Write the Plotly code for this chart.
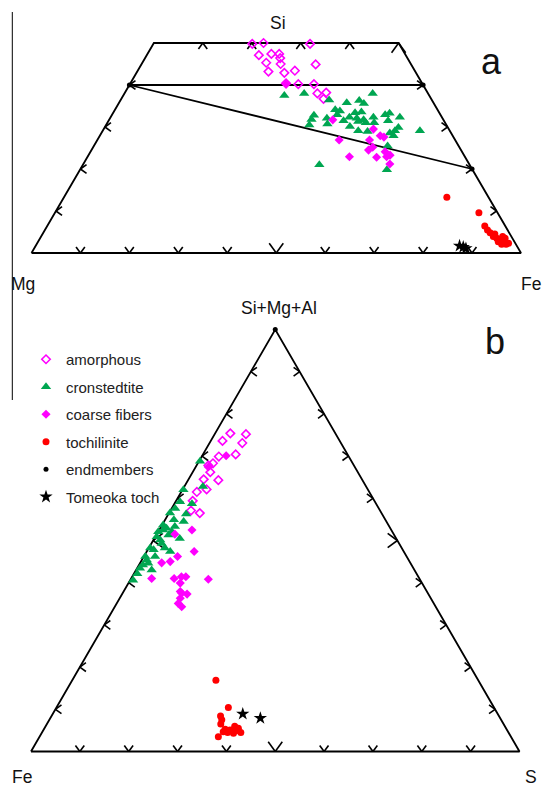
import math
import plotly.graph_objects as go

FIG_W, FIG_H = 543, 788
R3 = math.sqrt(3) / 2

# ---------------- Panel a : Si - Mg - Fe (fractions, Mg = 1 - Si - Fe) ----------------
a_amorphous_si = [0.498, 0.500, 0.498, 0.471, 0.474, 0.474, 0.464, 0.453, 0.450, 0.432,
                  0.429, 0.434, 0.449, 0.404, 0.402, 0.402, 0.380, 0.382, 0.367]
a_amorphous_fe = [0.202, 0.224, 0.320, 0.229, 0.253, 0.269, 0.276, 0.253, 0.284, 0.268,
                  0.302, 0.321, 0.356, 0.318, 0.344, 0.376, 0.394, 0.411, 0.413]

a_cronst_si = [0.375, 0.380, 0.380, 0.364, 0.358, 0.363, 0.356, 0.341, 0.338, 0.334,
               0.336, 0.328, 0.321, 0.318, 0.315, 0.323, 0.321, 0.317, 0.323, 0.329,
               0.333, 0.323, 0.310, 0.310, 0.315, 0.305, 0.307, 0.301, 0.291, 0.289,
               0.299, 0.291, 0.286, 0.291, 0.279, 0.255, 0.210, 0.198, 0.329, 0.313]
a_cronst_fe = [0.329, 0.367, 0.507, 0.426, 0.465, 0.488, 0.501, 0.450, 0.461, 0.494,
               0.506, 0.413, 0.443, 0.413, 0.480, 0.488, 0.504, 0.520, 0.537, 0.558,
               0.565, 0.591, 0.528, 0.545, 0.571, 0.415, 0.451, 0.500, 0.522, 0.542,
               0.600, 0.648, 0.589, 0.597, 0.600, 0.600, 0.483, 0.627, 0.460, 0.511]

a_coarse_si = [0.317, 0.295, 0.269, 0.279, 0.276, 0.269, 0.245, 0.252, 0.241, 0.233,
               0.229, 0.228, 0.229, 0.212, 0.402]
a_coarse_fe = [0.457, 0.551, 0.494, 0.573, 0.582, 0.556, 0.566, 0.571, 0.602, 0.616,
               0.535, 0.591, 0.611, 0.626, 0.319]

a_toch_si = [0.133, 0.096, 0.064, 0.055, 0.048, 0.045, 0.035, 0.031, 0.039, 0.027,
             0.021, 0.021, 0.023, 0.027, 0.039, 0.035]
a_toch_fe = [0.782, 0.866, 0.894, 0.904, 0.913, 0.924, 0.933, 0.942, 0.943, 0.952,
             0.959, 0.950, 0.963, 0.940, 0.924, 0.950]

a_tomeoka_si = [0.017, 0.014, 0.011]
a_tomeoka_fe = [0.866, 0.875, 0.882]

# endmembers: Mg-serpentine, greenalite, cronstedtite
a_end_si = [0.4, 0.4, 0.2]
a_end_fe = [0.0, 0.6, 0.8]

# ---------------- Panel b : (Si+Mg+Al) - Fe - S (fractions, Fe = 1 - T - S) ----------------
b_amorphous_t = [0.754, 0.752, 0.736, 0.731, 0.699, 0.704, 0.683, 0.678, 0.662, 0.645,
                 0.643, 0.621, 0.615, 0.594, 0.565, 0.571]
b_amorphous_s = [0.031, 0.064, 0.024, 0.067, 0.035, 0.067, 0.031, 0.024, 0.036, 0.031,
                 0.062, 0.049, 0.032, 0.034, 0.063, 0.042]

b_cronst_t = [0.688, 0.620, 0.628, 0.587, 0.576, 0.592, 0.565, 0.545, 0.533, 0.525,
              0.513, 0.505, 0.509, 0.493, 0.482, 0.474, 0.462, 0.462, 0.446, 0.442,
              0.430, 0.406, 0.529, 0.521, 0.501, 0.478, 0.454, 0.434, 0.537, 0.521,
              0.482, 0.549, 0.563, 0.421]
b_cronst_s = [0.002, 0.002, 0.038, 0.036, 0.007, 0.009, 0.002, 0.040, 0.028, 0.008,
              0.025, 0.052, 0.003, 0.021, 0.003, 0.048, 0.023, 0.003, 0.017, 0.008,
              0.032, 0.006, 0.013, 0.028, 0.014, 0.012, 0.010, 0.006, 0.002, 0.000,
              0.033, 0.018, 0.036, 0.007]

b_coarse_t = [0.701, 0.674, 0.515, 0.525, 0.474, 0.462, 0.450, 0.447, 0.410, 0.410,
              0.414, 0.414, 0.408, 0.399, 0.375, 0.373, 0.363, 0.351, 0.343, 0.379]
b_coarse_s = [0.049, 0.026, 0.037, 0.067, 0.097, 0.069, 0.060, 0.044, 0.042, 0.088,
              0.101, 0.110, 0.159, 0.106, 0.121, 0.133, 0.124, 0.126, 0.137, 0.116]

b_toch_t = [0.169, 0.104, 0.084, 0.075, 0.065, 0.053, 0.051, 0.060, 0.049, 0.045,
            0.043, 0.045, 0.047, 0.035, 0.055]
b_toch_s = [0.294, 0.352, 0.346, 0.353, 0.356, 0.371, 0.382, 0.387, 0.395, 0.407,
            0.393, 0.380, 0.370, 0.366, 0.397]

b_tomeoka_t = [0.089, 0.079]
b_tomeoka_s = [0.389, 0.430]

b_end_t = [1.0]
b_end_s = [0.0]

# tick values along each edge
a_bottom_ticks = [0.1, 0.2, 0.3, 0.4, 0.5, 0.6, 0.7, 0.8, 0.9]
a_side_ticks = [0.1, 0.2, 0.3, 0.4]
a_top_ticks = [0.1, 0.2, 0.3, 0.4, 0.5]
b_ticks = [0.1, 0.2, 0.3, 0.4, 0.5, 0.6, 0.7, 0.8, 0.9]
SI_CUT = 0.5  # upper limit of Si shown in panel a

MAGENTA = "#FF00FF"
GREEN = "#00A651"
RED = "#FF0000"
FONT = "Liberation Sans, Arial, sans-serif"

# pixel scale of each panel (px per cartesian unit)
A_SX, A_SY = 489.5, 420 / R3
B_SX, B_SY = 488.5, 422 / R3


def to_xy(top, right):
    """Ternary (top, right) fractions -> cartesian coordinates."""
    xs = [r + t / 2 for t, r in zip(top, right)]
    ys = [t * R3 for t in top]
    return xs, ys


def arrow_ticks(xs, ys, direction, sx, sy, lengths, half=36):
    """Chevron tick marks whose tip sits on the edge and points outward."""
    dx, dy = direction
    px, py = [], []
    for x, y, L in zip(xs, ys, lengths):
        for sgn in (1, -1):
            a = math.radians(sgn * half)
            bx, by = -dx, -dy
            rx = bx * math.cos(a) - by * math.sin(a)
            ry = bx * math.sin(a) + by * math.cos(a)
            px += [x + L * rx / sx, x, None]
            py += [y + L * ry / sy, y, None]
    return px, py


def tick_len(vals):
    return [12 if abs(v - 0.5) < 1e-9 else 7.5 for v in vals]


fig = go.Figure()

# ---------- panel a frame (trapezoid) ----------
fx, fy = to_xy([0, 0, SI_CUT, SI_CUT, 0], [0, 1, 1 - SI_CUT, 0, 0])
fig.add_trace(go.Scatter(x=fx, y=fy, mode="lines", line=dict(color="black", width=1.8),
                         hoverinfo="skip", showlegend=False, xaxis="x", yaxis="y"))

tick_x, tick_y = [], []
# bottom edge: Fe
bx, by = to_xy([0] * len(a_bottom_ticks), a_bottom_ticks)
p = arrow_ticks(bx, by, (0, -1), A_SX, A_SY, tick_len(a_bottom_ticks))
tick_x += p[0]; tick_y += p[1]
# left edge: Si
lx, ly = to_xy(a_side_ticks, [0] * len(a_side_ticks))
p = arrow_ticks(lx, ly, (-1, 0), A_SX, A_SY, tick_len(a_side_ticks))
tick_x += p[0]; tick_y += p[1]
# right edge: Si
rx, ry = to_xy(a_side_ticks, [1 - v for v in a_side_ticks])
p = arrow_ticks(rx, ry, (1, 0), A_SX, A_SY, tick_len(a_side_ticks))
tick_x += p[0]; tick_y += p[1]
# top edge (Si = 0.5): Fe
tx, ty = to_xy([SI_CUT] * len(a_top_ticks), a_top_ticks)
p = arrow_ticks(tx, ty, (0, 1), A_SX, A_SY, tick_len(a_top_ticks))
tick_x += p[0]; tick_y += p[1]
fig.add_trace(go.Scatter(x=tick_x, y=tick_y, mode="lines", line=dict(color="black", width=1.6),
                         hoverinfo="skip", showlegend=False, xaxis="x", yaxis="y"))

# serpentine join lines: Mg-serpentine -> greenalite, Mg-serpentine -> cronstedtite
ex, ey = to_xy(a_end_si, a_end_fe)
fig.add_trace(go.Scatter(x=[ex[0], ex[1], None, ex[0], ex[2]], y=[ey[0], ey[1], None, ey[0], ey[2]],
                         mode="lines", line=dict(color="black", width=1.8),
                         hoverinfo="skip", showlegend=False, xaxis="x", yaxis="y"))

# ---------- panel b frame (triangle) ----------
gx, gy = to_xy([0, 0, 1, 0], [0, 1, 0, 0])
fig.add_trace(go.Scatter(x=gx, y=gy, mode="lines", line=dict(color="black", width=1.8),
                         hoverinfo="skip", showlegend=False, xaxis="x2", yaxis="y2"))
tick_x, tick_y = [], []
bx, by = to_xy([0] * len(b_ticks), b_ticks)
p = arrow_ticks(bx, by, (0, -1), B_SX, B_SY, tick_len(b_ticks))
tick_x += p[0]; tick_y += p[1]
lx, ly = to_xy(b_ticks, [0] * len(b_ticks))
p = arrow_ticks(lx, ly, (-1, 0), B_SX, B_SY, tick_len(b_ticks))
tick_x += p[0]; tick_y += p[1]
rx, ry = to_xy(b_ticks, [1 - v for v in b_ticks])
p = arrow_ticks(rx, ry, (1, 0), B_SX, B_SY, tick_len(b_ticks))
tick_x += p[0]; tick_y += p[1]
fig.add_trace(go.Scatter(x=tick_x, y=tick_y, mode="lines", line=dict(color="black", width=1.6),
                         hoverinfo="skip", showlegend=False, xaxis="x2", yaxis="y2"))

# ---------- data series ----------
series = [
    ("amorphous", dict(symbol="diamond-open", size=6.5, color=MAGENTA, line=dict(width=1.6, color=MAGENTA)),
     (a_amorphous_si, a_amorphous_fe), (b_amorphous_t, b_amorphous_s)),
    ("cronstedtite", dict(symbol="triangle-up", size=9, color=GREEN, line=dict(width=0)),
     (a_cronst_si, a_cronst_fe), (b_cronst_t, b_cronst_s)),
    ("coarse fibers", dict(symbol="diamond", size=7, color=MAGENTA, line=dict(width=0)),
     (a_coarse_si, a_coarse_fe), (b_coarse_t, b_coarse_s)),
    ("tochilinite", dict(symbol="circle", size=7, color=RED, line=dict(width=0)),
     (a_toch_si, a_toch_fe), (b_toch_t, b_toch_s)),
    ("endmembers", dict(symbol="circle", size=5, color="black", line=dict(width=0)),
     (a_end_si, a_end_fe), (b_end_t, b_end_s)),
    ("Tomeoka toch", dict(symbol="star", size=10, color="black", line=dict(width=0)),
     (a_tomeoka_si, a_tomeoka_fe), (b_tomeoka_t, b_tomeoka_s)),
]

for name, marker, (a_top, a_right), (b_top, b_right) in series:
    x, y = to_xy(a_top, a_right)
    fig.add_trace(go.Scatter(x=x, y=y, mode="markers", marker=marker, name=name,
                             legendgroup=name, showlegend=False, xaxis="x", yaxis="y"))
    x, y = to_xy(b_top, b_right)
    fig.add_trace(go.Scatter(x=x, y=y, mode="markers", marker=marker, name=name,
                             legendgroup=name, showlegend=True, xaxis="x2", yaxis="y2"))


def paper(xp, yp):
    return xp / FIG_W, 1 - yp / FIG_H


# (text, x px, y px, font size, vertical anchor)
labels = [
    ("Si", 278, 23, 17.5, "middle"), ("a", 491, 62, 36, "middle"),
    ("Mg", 23, 284, 17.5, "middle"), ("Fe", 531, 284, 17.5, "middle"),
    ("Si+Mg+Al", 279, 308, 17.5, "middle"), ("b", 495, 341, 36, "middle"),
    ("Fe", 22, 788, 17.5, "bottom"), ("S", 531, 788, 17.5, "bottom"),
]
annotations = []
for text, xp, yp, size, anchor in labels:
    x, y = paper(xp, yp)
    annotations.append(dict(text=text, x=x, y=y, xref="paper", yref="paper", showarrow=False,
                            xanchor="center", yanchor=anchor, borderpad=0,
                            font=dict(family=FONT, size=size, color="#111111")))

v0, v1 = paper(12.3, 12)[1], paper(12.3, 400)[1]
shapes = [dict(type="line", xref="paper", yref="paper", x0=12.3 / FIG_W, x1=12.3 / FIG_W,
               y0=v1, y1=v0, line=dict(color="black", width=1))]

split = 1 - 300 / FIG_H
hidden = dict(visible=False, showgrid=False, zeroline=False, fixedrange=True)
fig.update_layout(
    width=FIG_W, height=FIG_H, margin=dict(l=0, r=0, t=0, b=0, pad=0),
    paper_bgcolor="white", plot_bgcolor="white",
    xaxis=dict(domain=[0, 1], range=[-31.5 / A_SX, (FIG_W - 31.5) / A_SX], **hidden),
    yaxis=dict(domain=[split, 1], range=[(253 - 300) / A_SY, 253 / A_SY], **hidden),
    xaxis2=dict(domain=[0, 1], range=[-31 / B_SX, (FIG_W - 31) / B_SX], **hidden),
    yaxis2=dict(domain=[0, split], range=[(751.5 - 788) / B_SY, (751.5 - 300) / B_SY], **hidden),
    legend=dict(x=26 / FIG_W, y=1 - 343 / FIG_H, xanchor="left", yanchor="top",
                bgcolor="rgba(0,0,0,0)", font=dict(family=FONT, size=15, color="#222222"),
                traceorder="grouped", tracegroupgap=5, itemwidth=30),
    annotations=annotations, shapes=shapes,
)

fig.write_html("out.html")
